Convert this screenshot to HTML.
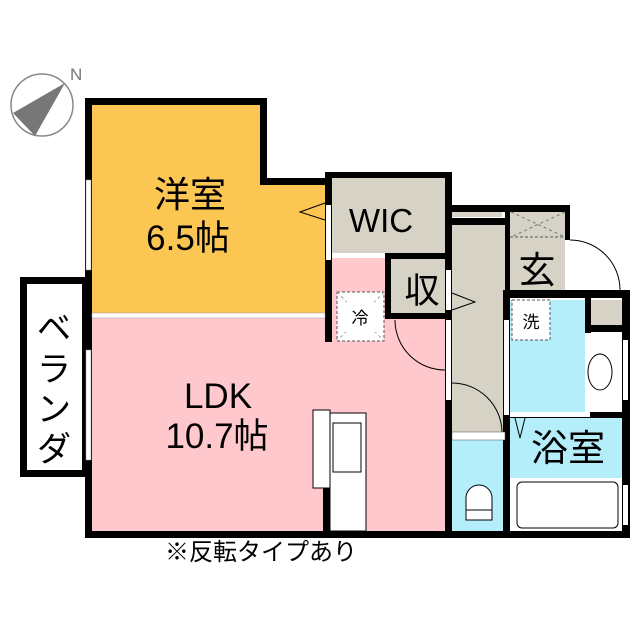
<!DOCTYPE html>
<html><head><meta charset="utf-8"><style>body{margin:0;background:#fff}svg{display:block}text{font-family:"Liberation Sans","Noto Sans CJK JP",sans-serif}</style></head><body>
<svg width="640" height="640" viewBox="0 0 640 640">
<circle cx="42" cy="105" r="31" fill="none" stroke="#888" stroke-width="1.5"/>
<polygon points="65,83 13,113 35,136" fill="#777"/>
<text x="70" y="80" font-size="17" fill="#777">N</text>
<polygon points="92,105 260,105 260,185 325,185 325,313 92,313" fill="#fcc653"/>
<rect x="92" y="313" width="353" height="218" fill="#ffc8cc"/>
<rect x="332" y="258" width="113" height="60" fill="#ffc8cc"/>
<rect x="332" y="178" width="113" height="75" fill="#d6d2c6"/>
<rect x="390" y="258" width="55" height="60" fill="#d6d2c6"/>
<rect x="452" y="220" width="53" height="212" fill="#d6d2c6"/>
<rect x="452" y="440" width="53" height="91" fill="#b3eefa"/>
<rect x="510" y="212" width="55" height="78" fill="#d6d2c6"/>
<rect x="510" y="300" width="75" height="112" fill="#b3eefa"/>
<rect x="590" y="300" width="35" height="25" fill="#d6d2c6"/>
<rect x="585" y="333" width="40" height="79" fill="#fff"/>
<rect x="510" y="418" width="115" height="60" fill="#b3eefa"/>
<rect x="510" y="478" width="115" height="53" fill="#fff"/>
<rect x="23.5" y="280.5" width="62" height="193" fill="#fff" stroke="#000" stroke-width="7"/>
<g fill="#000">
<rect x="85" y="98" width="182" height="7"/>
<rect x="85" y="98" width="7" height="440"/>
<rect x="260" y="98" width="7" height="87"/>
<rect x="260" y="178" width="72" height="7"/>
<rect x="325" y="172" width="127" height="6"/>
<rect x="325" y="172" width="7" height="170"/>
<rect x="445" y="172" width="7" height="366"/>
<rect x="385" y="253" width="67" height="6"/>
<rect x="385" y="253" width="6" height="66"/>
<rect x="385" y="313" width="67" height="6"/>
<rect x="450" y="205" width="120" height="7"/>
<rect x="452" y="218" width="58" height="7"/>
<rect x="505" y="205" width="5" height="90"/>
<rect x="565" y="205" width="5" height="35"/>
<rect x="503" y="290" width="127" height="8"/>
<rect x="503" y="290" width="7" height="248"/>
<rect x="585" y="298" width="6" height="35"/>
<rect x="585" y="325" width="40" height="7"/>
<rect x="622" y="290" width="8" height="248"/>
<rect x="85" y="531" width="545" height="7"/>
<rect x="323" y="488" width="7" height="45"/>
<rect x="510" y="412" width="115" height="6"/>
</g>
<rect x="86" y="180" width="5" height="90" fill="#fff" stroke="#999" stroke-width="0.5"/>
<rect x="86" y="350" width="5" height="110" fill="#fff" stroke="#999" stroke-width="0.5"/>
<rect x="92" y="313" width="233" height="5" fill="#fff" stroke="#999" stroke-width="0.5"/>
<rect x="326" y="205" width="5" height="55" fill="#fff"/>
<rect x="446" y="270" width="5" height="40" fill="#fff"/>
<rect x="446" y="320" width="5" height="80" fill="#fff"/>
<rect x="452" y="212" width="50" height="5" fill="#d6d2c6"/>
<rect x="566" y="240" width="4" height="50" fill="#fff"/>
<rect x="504" y="320" width="5" height="95" fill="#fff"/>
<rect x="510" y="412" width="80" height="5" fill="#fff"/>
<rect x="452" y="432" width="53" height="8" fill="#fff" stroke="#555" stroke-width="0.5"/>
<rect x="623" y="485" width="5" height="40" fill="#fff"/>
<rect x="623" y="340" width="5" height="60" fill="#fff"/>
<path d="M570,240 A50,50 0 0 1 620,290" fill="none" stroke="#000" stroke-width="1"/>
<path d="M395,320 A50,50 0 0 0 445,370" fill="none" stroke="#000" stroke-width="1"/>
<path d="M452,383 A50,50 0 0 1 502,432" fill="none" stroke="#000" stroke-width="1"/>
<polyline points="325,203 300,212 325,220" fill="none" stroke="#000" stroke-width="1"/>
<polyline points="452,293 475,302 452,310" fill="none" stroke="#000" stroke-width="1"/>
<polyline points="515,418 520,438 525,418" fill="none" stroke="#000" stroke-width="1"/>
<rect x="337" y="292" width="47" height="49" fill="#fff" stroke="#555" stroke-dasharray="3,2"/>
<path d="M337,292 L384,341 M384,292 L337,341" stroke="#999" stroke-dasharray="3,3"/>
<rect x="345" y="302" width="31" height="30" fill="#fff"/>
<text x="360" y="324" font-size="17" text-anchor="middle">冷</text>
<rect x="512" y="300" width="38" height="40" fill="#fff" stroke="#555" stroke-dasharray="3,2"/>
<text x="531" y="328" font-size="17" text-anchor="middle">洗</text>
<path d="M511,212 L565,237 M565,212 L511,237" stroke="#777" stroke-dasharray="3,3"/>
<line x1="510" y1="237" x2="565" y2="237" stroke="#555" stroke-dasharray="3,2"/>
<ellipse cx="600" cy="372" rx="12" ry="18" fill="#fff" stroke="#000"/>
<rect x="517" y="482" width="101" height="46" rx="5" fill="#fff" stroke="#000"/>
<path d="M466,520 L466,498 A13,13 0 0 1 492,498 L492,520 Z" fill="#fff" stroke="#000"/>
<rect x="466" y="510" width="26" height="10" fill="#fff" stroke="#000"/>
<rect x="330" y="413" width="36" height="118" fill="#fff" stroke="#000" stroke-width="1"/>
<rect x="333" y="423" width="28" height="49" fill="#fff" stroke="#000" stroke-width="1"/>
<rect x="313" y="410" width="17" height="78" fill="#fff" stroke="#000" stroke-width="1"/>
<text x="190" y="207" font-size="36" text-anchor="middle">洋室</text>
<text x="188" y="250" font-size="35" text-anchor="middle">6.5帖</text>
<text x="218" y="408" font-size="35" text-anchor="middle">LDK</text>
<text x="217" y="448" font-size="35" text-anchor="middle">10.7帖</text>
<text x="381" y="232" font-size="33" text-anchor="middle">WIC</text>
<text x="422" y="303" font-size="35" text-anchor="middle">収</text>
<text x="537" y="283" font-size="37" text-anchor="middle">玄</text>
<text x="568" y="461" font-size="37" text-anchor="middle">浴室</text>
<text x="54" y="340" font-size="34" text-anchor="middle">ベ</text>
<text x="54" y="381" font-size="34" text-anchor="middle">ラ</text>
<text x="54" y="421" font-size="34" text-anchor="middle">ン</text>
<text x="54" y="461" font-size="34" text-anchor="middle">ダ</text>
<text x="165" y="560" font-size="24">※反転タイプあり</text>
</svg>
</body></html>
